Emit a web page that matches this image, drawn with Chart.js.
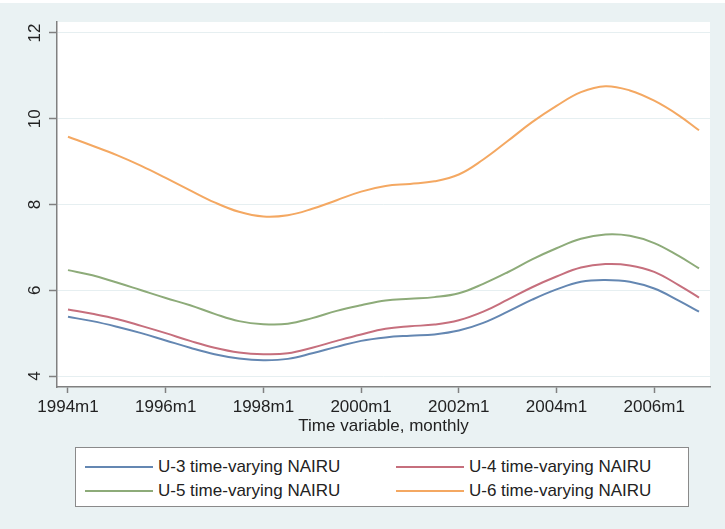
<!DOCTYPE html>
<html>
<head>
<meta charset="utf-8">
<script src="https://cdn.jsdelivr.net/npm/chart.js@4.4.1/dist/chart.umd.min.js"></script>
<style>
  html, body { margin: 0; padding: 0; background: #fff; }
  #wrap { position: relative; width: 725px; height: 529px; }
  #legend {
    position: absolute; left: 75px; top: 447px; width: 612px; height: 58px;
    background: #fff; border: 1.5px solid #8a8a8a;
    font: 17px "Liberation Sans", Arial, sans-serif; color: #222;
  }
  .item { position: absolute; height: 20px; line-height: 20px; white-space: nowrap; }
  .swatch { position: absolute; left: 0; top: 9px; width: 68px; height: 2px; }
  .item span { position: absolute; left: 73px; top: 0; }
</style>
</head>
<body>
<div id="wrap">
  <canvas id="nairuChart" width="725" height="529"></canvas>
  <div id="legend"></div>
</div>
<script>
// months since 1994m1
const months = [0, 6, 12, 18, 24, 30, 36, 42, 48, 54, 60, 66, 72, 78, 84, 90, 96, 102, 108, 114, 120, 126, 132, 138, 144, 150, 155];

const u3 = [5.38, 5.28, 5.15, 5.00, 4.83, 4.66, 4.51, 4.41, 4.37, 4.40, 4.53, 4.68, 4.82, 4.90, 4.94, 4.97, 5.06, 5.24, 5.50, 5.78, 6.02, 6.20, 6.24, 6.20, 6.04, 5.76, 5.50];
const u4 = [5.55, 5.45, 5.33, 5.17, 5.00, 4.82, 4.66, 4.55, 4.51, 4.53, 4.66, 4.82, 4.97, 5.10, 5.16, 5.20, 5.30, 5.50, 5.78, 6.07, 6.32, 6.53, 6.61, 6.58, 6.43, 6.12, 5.83];
const u5 = [6.47, 6.35, 6.18, 6.00, 5.82, 5.65, 5.45, 5.28, 5.21, 5.22, 5.35, 5.52, 5.65, 5.76, 5.80, 5.84, 5.93, 6.15, 6.42, 6.72, 6.98, 7.20, 7.30, 7.27, 7.10, 6.80, 6.51];
const u6 = [9.58, 9.37, 9.15, 8.90, 8.62, 8.33, 8.05, 7.83, 7.72, 7.75, 7.90, 8.10, 8.30, 8.43, 8.48, 8.54, 8.70, 9.05, 9.48, 9.92, 10.30, 10.62, 10.76, 10.66, 10.42, 10.08, 9.73];

const seriesNames = ['U-3 time-varying NAIRU', 'U-4 time-varying NAIRU', 'U-5 time-varying NAIRU', 'U-6 time-varying NAIRU'];
const seriesColors = ['#6487b2', '#c66f7d', '#8dab79', '#f4a862'];

const xTicks = [0, 24, 48, 72, 96, 120, 144];
const xTickLabels = ['1994m1', '1996m1', '1998m1', '2000m1', '2002m1', '2004m1', '2006m1'];
const yTicks = [4, 6, 8, 10, 12];

const FONT = '"Liberation Sans", Arial, sans-serif';

function toPoints(values) {
    return months.map((m, i) => ({x: m, y: values[i]}));
}

let datasets = [u3, u4, u5, u6].map((vals, i) => ({
    label: seriesNames[i],
    data: toPoints(vals),
    borderColor: seriesColors[i],
    borderWidth: 2,
    pointRadius: 0,
    fill: false,
    tension: 0.4
}));

// stata style background: light panel, white plot region
const backgroundPlugin = {
    id: 'panelBackground',
    beforeDraw(chart) {
        const {ctx, chartArea} = chart;
        ctx.save();
        ctx.fillStyle = '#eaf2f3';
        ctx.fillRect(0, 3, chart.width, chart.height - 3);
        ctx.fillStyle = '#ffffff';
        ctx.fillRect(chartArea.left, chartArea.top, chartArea.right - chartArea.left, chartArea.bottom - chartArea.top);
        ctx.restore();
    }
};

// rotated y tick labels
const yLabelPlugin = {
    id: 'yLabels',
    afterDraw(chart) {
        const ctx = chart.ctx;
        const yScale = chart.scales.y;
        ctx.save();
        ctx.font = '17px ' + FONT;
        ctx.fillStyle = '#222';
        ctx.textAlign = 'center';
        ctx.textBaseline = 'middle';
        yTicks.forEach(v => {
            ctx.save();
            ctx.translate(yScale.right - 22, yScale.getPixelForValue(v));
            ctx.rotate(-Math.PI / 2);
            ctx.fillText(String(v), 0, 0);
            ctx.restore();
        });
        ctx.restore();
    }
};

new Chart(document.getElementById('nairuChart'), {
    type: 'line',
    data: {datasets: datasets},
    plugins: [backgroundPlugin, yLabelPlugin],
    options: {
        responsive: false,
        animation: false,
        layout: {padding: {left: 0, right: 15, top: 22, bottom: 92}},
        scales: {
            x: {
                type: 'linear',
                min: -2.7,
                max: 157.7,
                afterBuildTicks: (scale) => { scale.ticks = xTicks.map(v => ({value: v})); },
                afterFit: (scale) => { scale.height = 50; },
                ticks: {
                    autoSkip: false,
                    maxRotation: 0,
                    padding: 4,
                    color: '#222',
                    font: {family: FONT, size: 17},
                    callback: (value) => xTickLabels[xTicks.indexOf(value)]
                },
                grid: {drawOnChartArea: false, drawTicks: true, tickLength: 6, tickColor: '#808080', tickWidth: 1.5},
                border: {display: true, color: '#808080', width: 1.5},
                title: {
                    display: true,
                    text: 'Time variable, monthly',
                    color: '#222',
                    font: {family: FONT, size: 17},
                    padding: {top: 0, bottom: 0}
                }
            },
            y: {
                min: 3.744,
                max: 12.256,
                afterBuildTicks: (scale) => { scale.ticks = yTicks.map(v => ({value: v})); },
                afterFit: (scale) => { scale.width = 57; },
                ticks: {display: false},
                grid: {color: '#e6eff1', lineWidth: 1, drawTicks: true, tickLength: 8, tickColor: '#808080', tickWidth: 1.5},
                border: {display: true, color: '#808080', width: 1.5}
            }
        },
        plugins: {
            legend: {display: false},
            tooltip: {enabled: false}
        }
    }
});

// legend box in two columns
const legendEl = document.getElementById('legend');
const legendPos = [[9, 9], [320, 9], [9, 33], [320, 33]];
seriesNames.forEach((name, i) => {
    const item = document.createElement('div');
    item.className = 'item';
    item.style.left = legendPos[i][0] + 'px';
    item.style.top = legendPos[i][1] + 'px';
    const sw = document.createElement('div');
    sw.className = 'swatch';
    sw.style.background = seriesColors[i];
    const txt = document.createElement('span');
    txt.textContent = name;
    item.appendChild(sw);
    item.appendChild(txt);
    legendEl.appendChild(item);
});
</script>
</body>
</html>
